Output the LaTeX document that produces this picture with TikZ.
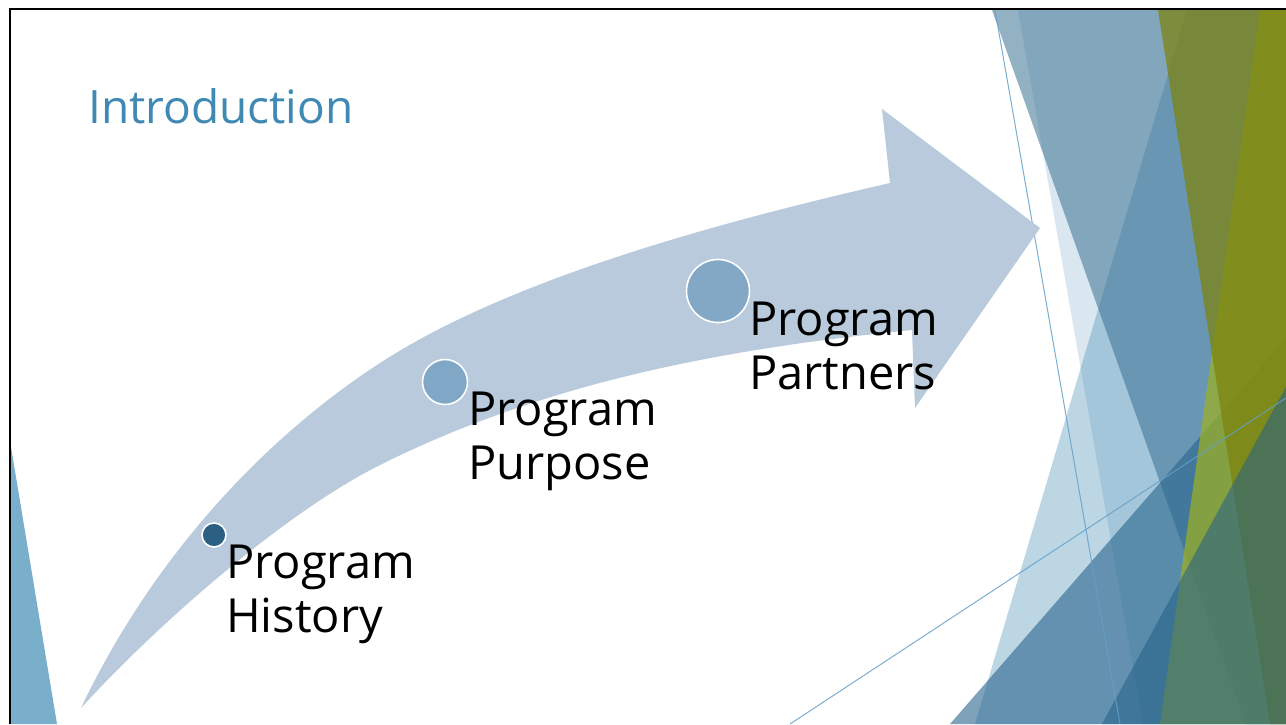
\documentclass[tikz,border=0pt]{standalone}
\usepackage{fontspec}
\setmainfont{Open Sans}
\definecolor{arrowc}{RGB}{184,202,219}
\definecolor{titlec}{RGB}{63,137,180}
\definecolor{dotA}{RGB}{44,96,131}
\definecolor{dotB}{RGB}{128,168,198}
\definecolor{dotC}{RGB}{130,168,198}
\definecolor{sOne}{RGB}{70,135,180}
\definecolor{sTwo}{RGB}{123,175,203}
\definecolor{sThree}{RGB}{58,113,147}
\definecolor{bOne}{RGB}{40,100,140}
\definecolor{gOne}{RGB}{125,131,12}
\definecolor{gTwo}{RGB}{159,177,31}
\definecolor{tOne}{RGB}{36,96,136}
\definecolor{lineC}{RGB}{100,160,200}
\definecolor{leftTri}{RGB}{122,175,203}
\tikzset{
  facet/.style={draw=none, fill=#1},
  thinline/.style={draw=lineC, line width=1pt, draw opacity=0.85},
  dot/.style={circle, draw=white, line width=1.6pt, inner sep=0pt, fill=#1},
  label/.style={anchor=base west, inner sep=0pt, text=black, font=\fontsize{47}{54}\selectfont},
}
\begin{document}
\begin{tikzpicture}[x=1pt,y=-1pt]
\useasboundingbox (0,0) rectangle (1286,724);
\fill[white] (0,0) rectangle (1286,724);
\begin{scope}
\clip (11,10.5) rectangle (1286,724);
% left small triangle
\fill[leftTri] (11,447) -- (57,724) -- (11,724) -- cycle;
% right facets
\fill[facet=sTwo, fill opacity=0.5] (1187,10) -- (975,724) -- (1300,724) -- (1300,10) -- cycle;
\fill[facet=sOne, fill opacity=0.2] (1018,10) -- (1143,724) -- (1300,724) -- (1300,10) -- cycle;
\fill[facet=sThree, fill opacity=0.55] (992,10) -- (1246,724) -- (1300,724) -- (1300,10) -- cycle;
\fill[facet=bOne, fill opacity=0.6] (950,724) -- (1300,322) -- (1300,724) -- cycle;
\fill[facet=gTwo, fill opacity=0.7] (1260,10) -- (1160,724) -- (1300,724) -- (1300,10) -- cycle;
\fill[facet=gOne, fill opacity=0.72] (1158,10) -- (1270,724) -- (1300,724) -- (1300,10) -- cycle;
\fill[facet=tOne, fill opacity=0.55] (1102,724) -- (1300,361) -- (1300,724) -- cycle;
\coordinate (la) at (995,10);
\coordinate (lb) at (1120,724);
\coordinate (lc) at (790,724);
\coordinate (ld) at (1286,398);
\draw[thinline] (la) -- (lb);
\draw[thinline] (lc) -- (ld);
\end{scope}
% border
\draw[black, line width=2.4pt] (10,724) -- (10,9) -- (1286,9);
% curved arrow
\fill[arrowc] (81,708) .. controls (151,561) and (260,441) .. (380,363)
  .. controls (510,278.5) and (720,222) .. (890,183)
  -- (882,109) -- (1040,228) -- (915,408) -- (912,330)
  .. controls (732,348) and (550,380) .. (380,465)
  .. controls (280,515) and (151,631) .. (81,708) -- cycle;
% title
\node[anchor=base west, inner sep=0pt, text=titlec, font=\fontsize{46}{54}\selectfont] (title) at (88,123) {Introduction};
% dots
\node[dot=dotA, minimum size=24pt] (d1) at (214,535) {};
\node[dot=dotB, minimum size=45pt] (d2) at (445,382) {};
\node[dot=dotC, minimum size=63pt] (d3) at (718,291) {};
% labels
\node[label] (t1) at (226,578) {\vtop{\hbox{Program}\hbox{History}}};
\node[label] (t2) at (468,425) {\vtop{\hbox{Program}\hbox{Purpose}}};
\node[label] (t3) at (749,335) {\vtop{\hbox{Program}\hbox{Partners}}};
\end{tikzpicture}
\end{document}
